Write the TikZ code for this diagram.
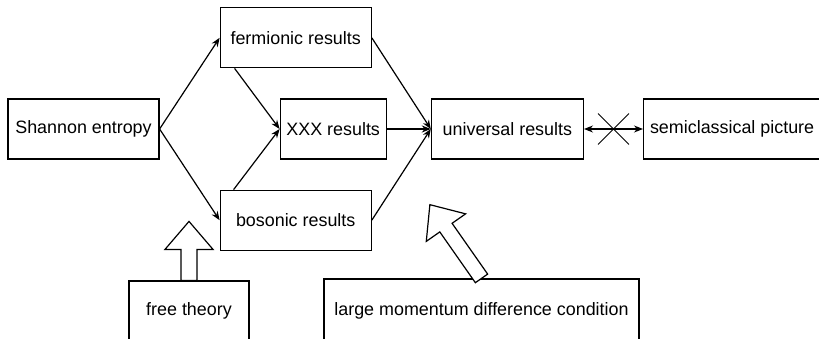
\documentclass[tikz,border=0pt]{standalone}
\usepackage{fontspec}
\setmainfont{Liberation Sans}
\usetikzlibrary{positioning,arrows.meta,shapes.misc}

\begin{document}
\begin{tikzpicture}[
        x=1pt, y=-1pt,
        font=\fontsize{17.9}{21}\selectfont,
        line width=1.2pt,
        >={Stealth[length=9pt,width=7pt]},
        res/.style={
                draw, minimum height=60pt,
                inner sep=0pt, align=center
            },
        link/.style={->},
        blockarrow/.style={draw, fill=white, line join=miter},
    ]

    \path[use as bounding box, clip] (0,0) rectangle (819,339);

    \node[res, minimum width=151pt] (shannon) at (83.5,129) {Shannon entropy};

    % the two branches and the chain to the right
    \node[res, minimum width=151pt, above right=30pt and 60pt of shannon] (ferm) {fermionic results};
    \node[res, minimum width=151pt, below right=30pt and 60pt of shannon] (bos) {bosonic results};
    \node[res, minimum width=106pt, right=120pt of shannon] (xxx) {XXX results};
    \node[res, minimum width=152pt, right=44pt of xxx] (univ) {universal results};
    \node[res, minimum width=177pt, right=59pt of univ] (semi) {semiclassical picture};

    % inputs along the bottom edge
    \node[res, minimum width=120pt] (free) at (189,311) {free theory};
    \node[res, minimum width=315pt, minimum height=64pt] (cond) at (481.5,311) {large momentum difference condition};

    \draw[link] (shannon.east) -- (ferm.west);
    \draw[link] (shannon.east) -- (bos.west);
    \draw[link] ([xshift=15pt]ferm.south west) -- (xxx.west);
    \draw[link] ([xshift=14pt]bos.north west) -- (xxx.west);
    \draw[link] (ferm.east) -- (univ.west);
    \draw[link] (bos.east) -- (univ.west);
    \draw[link] (xxx.east) -- (univ.west);
    \draw[line width=2.6pt] ([xshift=15pt]xxx.east) -- ++(15,0);

    \draw[<->] (univ.east) -- node[cross out, draw, minimum size=30pt, inner sep=0pt, line width=0.9pt] (nogo) {} (semi.west);

    % hollow arrows
    \begin{scope}[shift={(free.north)}]
        \draw[blockarrow] (-8,0) -- (-8,-31) -- (-24,-31) -- (0,-59) -- (24,-31) -- (8,-31) -- (8,0) -- cycle;
    \end{scope}
    \begin{scope}[shift={(cond.north)}, rotate=35]
        \draw[blockarrow] (-7.5,0) -- (-7.5,-62) -- (-24,-62) -- (0,-90) -- (24,-62) -- (7.5,-62) -- (7.5,0) -- cycle;
    \end{scope}
\end{tikzpicture}
\end{document}
